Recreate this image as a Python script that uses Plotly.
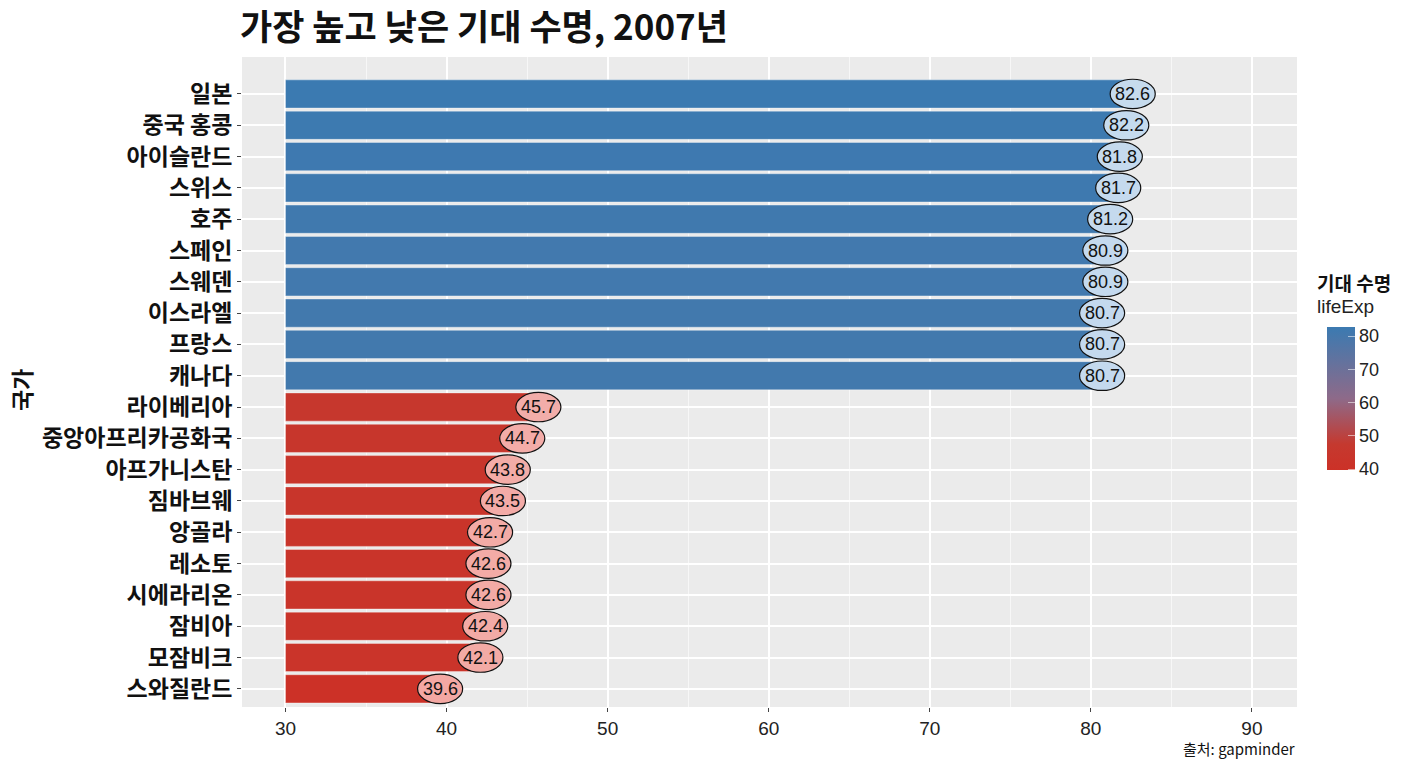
import colorsys
import numpy as np
import plotly.graph_objects as go
from plotly.colors import sample_colorscale, unlabel_rgb

countries = ["일본", "중국 홍콩", "아이슬란드", "스위스", "호주", "스페인", "스웨덴", "이스라엘", "프랑스", "캐나다",
             "라이베리아", "중앙아프리카공화국", "아프가니스탄", "짐바브웨", "앙골라", "레소토", "시에라리온", "잠비아", "모잠비크", "스와질란드"]
life_exp = [82.6, 82.2, 81.8, 81.7, 81.2, 80.9, 80.9, 80.7, 80.7, 80.7,
            45.7, 44.7, 43.8, 43.5, 42.7, 42.6, 42.6, 42.4, 42.1, 39.6]
labels = [f"{v:.1f}" for v in life_exp]
x_ticks = [30, 40, 50, 60, 70, 80, 90]
cbar_ticks = [40, 50, 60, 70, 80]

title = "가장 높고 낮은 기대 수명, 2007년"
y_title = "국가"
legend_title_1 = "기대 수명"
legend_title_2 = "lifeExp"
caption = "출처: gapminder"

BASE = 30
vals = np.array(life_exp)
ypos = np.arange(len(countries))
cmin, cmax = vals.min(), vals.max()
scale = [[0, "#cc3127"], [0.18, "#c5392f"], [0.5, "#8e6a89"], [1, "#3b7ab1"]]

# figure is drawn 8px in from the page corner (page body margin)
W, H = 1400, 760
PL, PR, PT, PB = 234, 1289, 49, 699   # plot area in figure pixels
pw, ph = PR - PL, PB - PT


def py(y_fig):
    return (PB - y_fig) / ph


fig = go.Figure()
fig.add_trace(go.Bar(
    y=ypos, x=vals - BASE, base=BASE, orientation="h", width=0.9,
    marker=dict(color=vals, colorscale=scale, cmin=cmin, cmax=cmax,
                line=dict(width=0.8, color="rgba(255,255,255,0.45)"),
                colorbar=dict(
                    thickness=28, len=143, lenmode="pixels", x=(1309 - PL) / pw, xanchor="left",
                    y=py(391), yanchor="middle", outlinewidth=0, ypad=0,
                    tickvals=cbar_ticks, ticks="inside", ticklen=7, tickcolor="rgba(255,255,255,0.55)",
                    tickfont=dict(size=18, color="#222", family="Liberation Sans"))),
    showlegend=False, hoverinfo="skip"))


def light(c, t):
    r, g, b = [x / 255 for x in unlabel_rgb(c)]
    h, l, s = colorsys.rgb_to_hls(r, g, b)
    r2, g2, b2 = colorsys.hls_to_rgb(h, 0.80 + 0.055 * t, 0.79 - 0.25 * t)
    return f"rgb({int(r2 * 255)},{int(g2 * 255)},{int(b2 * 255)})"


norm = (vals - cmin) / (cmax - cmin)
cols = sample_colorscale(scale, list(norm))
for i, (v, c) in enumerate(zip(vals, cols)):
    fig.add_shape(type="circle", xref="x", yref="y", x0=v - 1.4, x1=v + 1.4,
                  y0=ypos[i] - 0.47, y1=ypos[i] + 0.47,
                  fillcolor=light(c, norm[i]), line=dict(color="#111", width=1.2), layer="above")
    fig.add_annotation(x=v, y=ypos[i], xref="x", yref="y", text=labels[i], showarrow=False,
                       font=dict(size=18, color="#111", family="Liberation Sans"))

fig.update_layout(
    width=W, height=H,
    margin=dict(l=PL, r=W - PR, t=PT, b=H - PB, autoexpand=False),
    paper_bgcolor="white", plot_bgcolor="#ebebeb",
    font=dict(family="Noto Sans CJK KR", color="#111"),
    title=dict(text=f"<b>{title}</b>", x=232 / W, xref="container", xanchor="left",
               y=1 - 20 / H, yref="container", yanchor="middle", font=dict(size=35, color="#111")),
    bargap=0.1,
)
fig.update_xaxes(range=[27.3, 92.8], tickvals=x_ticks, showgrid=True, gridcolor="white", gridwidth=1.6,
                 minor=dict(dtick=5, tick0=25, showgrid=True, gridcolor="rgba(255,255,255,0.6)", gridwidth=0.8),
                 zeroline=False, ticks="outside", ticklen=4, tickcolor="#444", automargin=False,
                 tickfont=dict(size=19, color="#222", family="Liberation Sans"), showline=False)
fig.update_yaxes(range=[19.58, -1.18], tickvals=ypos, ticktext=[f"<b>{c}</b>" for c in countries],
                 showgrid=True, gridcolor="white", gridwidth=1.6, zeroline=False, automargin=False,
                 ticks="outside", ticklen=4, tickcolor="#444",
                 tickfont=dict(size=23, color="#111"))
fig.add_annotation(text=f"<b>{y_title}</b>", xref="paper", yref="paper", x=(13 - PL) / pw, y=py(382),
                   xanchor="center", yanchor="middle",
                   textangle=-90, showarrow=False, font=dict(size=23, color="#111"))
fig.add_annotation(text=f"<b>{legend_title_1}</b>", xref="paper", yref="paper", x=(1307 - PL) / pw, y=py(274),
                   xanchor="left", yanchor="middle", showarrow=False, font=dict(size=19, color="#111"))
fig.add_annotation(text=legend_title_2, xref="paper", yref="paper", x=(1307 - PL) / pw, y=py(298),
                   xanchor="left", yanchor="middle", showarrow=False,
                   font=dict(size=19, color="#222", family="Liberation Sans"))
fig.add_annotation(text=caption, xref="paper", yref="paper", x=1, y=py(740), xanchor="right",
                   yanchor="middle", showarrow=False, font=dict(size=15, color="#111", family="Noto Sans CJK KR"))

fig.write_html("out.html")
